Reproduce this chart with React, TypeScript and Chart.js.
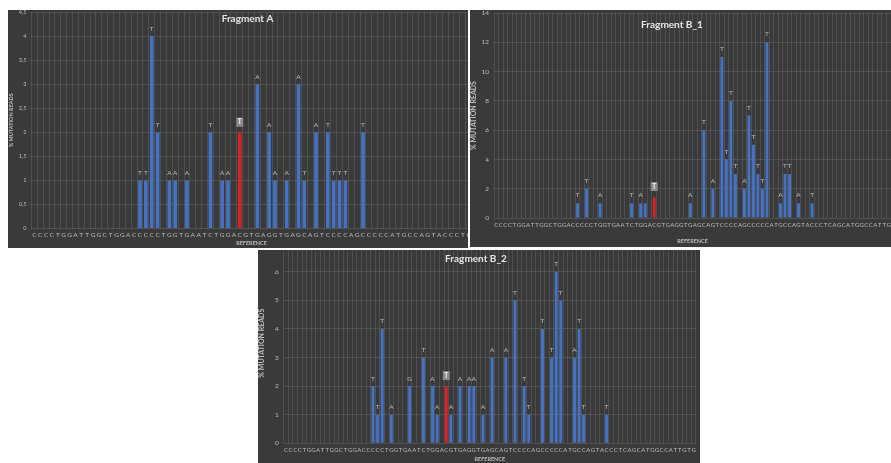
import React, { useEffect, useRef } from "react";
import { Chart, registerables } from "chart.js";

Chart.register(...registerables);

// ---------- data ----------
const REFERENCE_SEQ =
  "CCCCTGGATTGGCTGGACCCCCTGGTGAATCTGGACGTGAGGTGAGCAGTCCCCAGCCCCCATGCCAGTACCCTCAGCATGGCCATTGTG";
const CATEGORIES_A = REFERENCE_SEQ.slice(0, 75).split("");
const CATEGORIES_B1 = REFERENCE_SEQ.slice(0, 88).split("");
const CATEGORIES_B2 = REFERENCE_SEQ.slice(0, 90).split("");
const CPG_INDEX = 35;

const A_POSITIONS = [18, 19, 20, 21, 23, 24, 26, 30, 32, 33, 35, 38, 40, 41, 43, 45, 46, 48, 50, 51, 52, 53, 56];
const A_VALUES = [1, 1, 4, 2, 1, 1, 1, 2, 1, 1, 2, 3, 2, 1, 1, 3, 1, 2, 2, 1, 1, 1, 2];
const A_BASES = ["T", "T", "T", "T", "A", "A", "A", "T", "A", "A", "T", "A", "A", "A", "A", "A", "T", "A", "T", "T", "T", "T", "T"];

const B1_POSITIONS = [18, 20, 23, 30, 32, 33, 35, 43, 46, 48, 50, 51, 52, 53, 55, 56, 57, 58, 59, 60, 63, 64, 65, 67, 70];
const B1_VALUES = [1, 2, 1, 1, 1, 1, 1.4, 1, 6, 2, 11, 4, 8, 3, 2, 7, 5, 3, 2, 12, 1, 3, 3, 1, 1];
const B1_BASES = ["T", "T", "A", "T", "A", "", "T", "A", "T", "A", "T", "T", "T", "T", "A", "T", "T", "T", "T", "T", "A", "T", "T", "A", "T"];

const B2_POSITIONS = [19, 20, 21, 23, 27, 30, 32, 33, 35, 36, 38, 40, 41, 43, 45, 48, 50, 52, 53, 56, 58, 59, 60, 63, 64, 65, 70];
const B2_VALUES = [2, 1, 4, 1, 2, 3, 2, 1, 2, 1, 2, 2, 2, 1, 3, 3, 5, 2, 1, 4, 3, 6, 5, 3, 4, 1, 1];
const B2_BASES = ["T", "T", "T", "A", "G", "T", "A", "A", "T", "A", "A", "A", "A", "A", "A", "A", "T", "T", "T", "T", "T", "T", "T", "A", "T", "T", "T"];

const Y_TITLE = "% MUTATION READS";
const X_TITLE = "REFERENCE";

// ---------- style ----------
const FONT = "Lato, 'Open Sans', sans-serif";
const BG = "#3a3a3a";
const GRID = "rgba(255,255,255,0.11)";
const BLUE = "#4472C4";
const RED = "#D8222A";
const TEXT = "#bdbdbd";
const TITLE_COLOR = "#e6e6e6";

type Spec = {
  key: string;
  title: string;
  categories: string[];
  positions: number[];
  values: number[];
  bases: string[];
  yMax: number;
  yStep: number;
  comma: boolean;
  panel: { left: number; top: number; width: number; height: number };
  canvas: { dx: number; dy: number; width: number; height: number };
  area: { left: number; right: number; top: number; bottom: number };
  titlePos: { x: number; y: number };
  barFrac: number;
  xFont: number;
  labelFont: number;
  yFont: number;
  yTitleFont: number;
  xTitleBottom: number;
  labelGap: number;
};

const SPECS: Spec[] = [
  {
    key: "A",
    title: "Fragment A",
    categories: CATEGORIES_A,
    positions: A_POSITIONS,
    values: A_VALUES,
    bases: A_BASES,
    yMax: 4.5,
    yStep: 0.5,
    comma: true,
    panel: { left: 8, top: 10, width: 460, height: 238 },
    canvas: { dx: 0, dy: 0, width: 464, height: 238 },
    area: { left: 23.4, right: 463.6, top: 2, bottom: 218.5 },
    titlePos: { x: 239.5, y: 9 },
    barFrac: 0.62,
    xFont: 6.5,
    labelFont: 6.5,
    yFont: 5.5,
    yTitleFont: 5.5,
    xTitleBottom: 1.5,
    labelGap: 7,
  },
  {
    key: "B1",
    title: "Fragment B_1",
    categories: CATEGORIES_B1,
    positions: B1_POSITIONS,
    values: B1_VALUES,
    bases: B1_BASES,
    yMax: 14,
    yStep: 2,
    comma: false,
    panel: { left: 470, top: 10, width: 421, height: 237 },
    canvas: { dx: 0, dy: 0, width: 421, height: 237 },
    area: { left: 24.1, right: 421, top: 3, bottom: 208 },
    titlePos: { x: 202, y: 15 },
    barFrac: 0.65,
    xFont: 6,
    labelFont: 6.5,
    yFont: 6.5,
    yTitleFont: 7,
    xTitleBottom: 2.4,
    labelGap: 8,
  },
  {
    key: "B2",
    title: "Fragment B_2",
    categories: CATEGORIES_B2,
    positions: B2_POSITIONS,
    values: B2_VALUES,
    bases: B2_BASES,
    yMax: 7,
    yStep: 1,
    comma: false,
    panel: { left: 258, top: 250, width: 442, height: 213 },
    canvas: { dx: 0, dy: -10, width: 442, height: 223 },
    area: { left: 25.7, right: 437.9, top: 3.1, bottom: 203.3 },
    titlePos: { x: 218, y: 19 },
    barFrac: 0.65,
    xFont: 6,
    labelFont: 6.5,
    yFont: 6.5,
    yTitleFont: 7,
    xTitleBottom: 0,
    labelGap: 7.5,
  },
];

function Panel({ spec }: { spec: Spec }) {
  const ref = useRef<HTMLCanvasElement | null>(null);

  useEffect(() => {
    const canvas = ref.current;
    if (!canvas) return;
    const n = spec.categories.length;
    const data: (number | null)[] = [];
    const letters: string[] = [];
    for (let i = 0; i < n; i++) {
      const k = spec.positions.indexOf(i);
      data.push(k >= 0 ? spec.values[k] : null);
      letters.push(k >= 0 ? spec.bases[k] : "");
    }

    const letterPlugin = {
      id: "barLetters" + spec.key,
      afterDatasetsDraw(chart: any) {
        const { ctx } = chart;
        const meta = chart.getDatasetMeta(0);
        ctx.save();
        ctx.textAlign = "center";
        ctx.textBaseline = "middle";
        meta.data.forEach((el: any, i: number) => {
          const t = letters[i];
          if (!t) return;
          const x = el.x;
          const y = el.y - spec.labelGap;
          if (i === CPG_INDEX) {
            const w = 7;
            const h = 9;
            const by = y - 3;
            ctx.fillStyle = "#8a8a8a";
            ctx.fillRect(x - w / 2, by - h / 2, w, h);
            ctx.fillStyle = "#f2f2f2";
            ctx.font = `bold ${spec.labelFont}px ${FONT}`;
            ctx.fillText(t, x, by);
          } else {
            ctx.font = `${spec.labelFont}px ${FONT}`;
            ctx.fillStyle = TEXT;
            ctx.fillText(t, x, y);
          }
        });
        ctx.restore();
      },
    };

    const titlePlugin = {
      id: "panelTitle" + spec.key,
      afterDraw(chart: any) {
        const { ctx } = chart;
        ctx.save();
        ctx.font = `bold 10px ${FONT}`;
        ctx.fillStyle = TITLE_COLOR;
        ctx.textAlign = "center";
        ctx.textBaseline = "middle";
        ctx.fillText(spec.title, spec.titlePos.x, spec.titlePos.y);
        ctx.restore();
      },
    };

    const chart = new Chart(canvas, {
      type: "bar",
      data: {
        labels: spec.categories,
        datasets: [
          {
            data,
            backgroundColor: (c: any) => (c.dataIndex === CPG_INDEX ? RED : BLUE),
            borderWidth: 0,
            barPercentage: 1,
            categoryPercentage: spec.barFrac,
          },
        ],
      },
      options: {
        responsive: false,
        animation: false,
        devicePixelRatio: 1,
        layout: {
          padding: {
            left: 0,
            top: spec.area.top,
            right: spec.canvas.width - spec.area.right,
            bottom: 0,
          },
        },
        plugins: {
          legend: { display: false },
          tooltip: { enabled: false },
          title: { display: false },
        },
        scales: {
          x: {
            grid: { color: GRID, offset: true, drawTicks: false },
            border: { display: false },
            ticks: {
              autoSkip: false,
              maxRotation: 0,
              minRotation: 0,
              padding: 3,
              color: TEXT,
              font: { size: spec.xFont, family: FONT },
            },
            title: {
              display: true,
              text: X_TITLE,
              color: TEXT,
              font: { size: 5.5, weight: "bold", family: FONT },
              padding: { top: 0, bottom: spec.xTitleBottom },
            },
            afterFit: (s: any) => {
              s.height = spec.canvas.height - spec.area.bottom;
              s.paddingLeft = 0;
              s.paddingRight = 0;
            },
          },
          y: {
            min: 0,
            max: spec.yMax,
            grid: { color: GRID, drawTicks: false },
            border: { display: false },
            ticks: {
              stepSize: spec.yStep,
              padding: 5,
              color: TEXT,
              font: { size: spec.yFont, family: FONT },
              callback: (v: any) => (spec.comma ? String(v).replace(".", ",") : String(v)),
            },
            title: {
              display: true,
              text: Y_TITLE,
              color: TEXT,
              font: { size: spec.yTitleFont, weight: "bold", family: FONT },
              padding: { top: 0, bottom: 0 },
            },
            afterFit: (s: any) => {
              s.width = spec.area.left;
              s.paddingTop = 0;
              s.paddingBottom = 0;
            },
          },
        },
      } as any,
      plugins: [letterPlugin, titlePlugin],
    });
    return () => chart.destroy();
  }, [spec]);

  return (
    <div
      style={{
        position: "absolute",
        left: spec.panel.left,
        top: spec.panel.top,
        width: spec.panel.width,
        height: spec.panel.height,
        background: BG,
        overflow: "hidden",
      }}
    >
      <canvas
        ref={ref}
        width={spec.canvas.width}
        height={spec.canvas.height}
        style={{
          position: "absolute",
          left: spec.canvas.dx,
          top: spec.canvas.dy,
          width: spec.canvas.width,
          height: spec.canvas.height,
          display: "block",
        }}
      />
    </div>
  );
}

export default function App() {
  return (
    <div
      style={{
        position: "fixed",
        left: 0,
        top: 0,
        width: 891,
        height: 463,
        background: "#ffffff",
        overflow: "hidden",
      }}
    >
      {SPECS.map((s) => (
        <Panel key={s.key} spec={s} />
      ))}
    </div>
  );
}
